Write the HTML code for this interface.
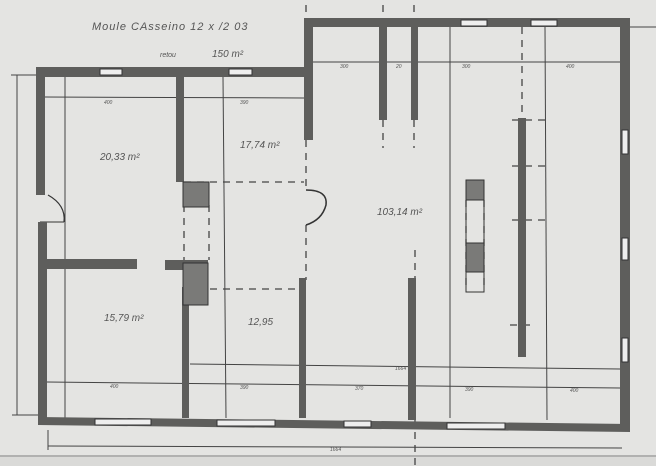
<!DOCTYPE html>
<html><head><meta charset="utf-8"><style>
html,body{margin:0;padding:0;background:#e4e4e2;}
svg{display:block;}
text{font-family:"Liberation Sans",sans-serif;fill:#555;font-style:italic;}
</style></head><body>
<svg width="656" height="466" viewBox="0 0 656 466" xmlns="http://www.w3.org/2000/svg">
<rect width="656" height="466" fill="#e4e4e2"/>
<rect x="0" y="455" width="656" height="11" fill="#dadad8"/>
<line x1="0" y1="456" x2="656" y2="456" stroke="#888" stroke-width="1"/>
<!-- thin lines -->
<g stroke="#444" stroke-width="1" fill="none">
<line x1="17" y1="75" x2="17" y2="415"/>
<line x1="11" y1="75" x2="40" y2="75"/>
<line x1="12" y1="415" x2="40" y2="415"/>
<line x1="48" y1="446" x2="622" y2="448"/>
<line x1="48" y1="430" x2="48" y2="450"/>
<line x1="44" y1="97" x2="304" y2="98"/>
<line x1="312" y1="62" x2="620" y2="62"/>
<line x1="630" y1="27" x2="656" y2="27"/>
<line x1="65" y1="77" x2="65" y2="418"/>
<line x1="223" y1="77" x2="226" y2="418"/>
<line x1="450" y1="27" x2="450" y2="418"/>
<line x1="545" y1="27" x2="547" y2="420"/>
<line x1="47" y1="382" x2="620" y2="388"/>
<line x1="190" y1="364" x2="620" y2="369"/>
<line x1="312" y1="62" x2="312" y2="62"/>
</g>
<g stroke="#444" stroke-width="1.3" fill="none" stroke-dasharray="7 6">
<line x1="184" y1="182" x2="304" y2="182"/>
<line x1="210" y1="289" x2="300" y2="289"/>
<line x1="522" y1="27" x2="522" y2="118"/>
<line x1="415" y1="380" x2="415" y2="466"/>
<line x1="415" y1="250" x2="415" y2="278"/>
<line x1="306" y1="140" x2="306" y2="190"/>
<line x1="306" y1="225" x2="306" y2="280"/>
<line x1="383" y1="120" x2="383" y2="148"/>
<line x1="414" y1="120" x2="414" y2="148"/>
<line x1="306" y1="5" x2="306" y2="18"/>
<line x1="383" y1="5" x2="383" y2="18"/>
<line x1="414" y1="5" x2="414" y2="18"/>
<line x1="184" y1="205" x2="184" y2="260"/>
<line x1="209" y1="205" x2="209" y2="260"/>
<line x1="466" y1="200" x2="466" y2="290"/>
<line x1="484" y1="200" x2="484" y2="290"/>
<line x1="510" y1="325" x2="530" y2="325"/>
<line x1="512" y1="120" x2="548" y2="120"/>
<line x1="512" y1="166" x2="548" y2="166"/>
<line x1="512" y1="220" x2="548" y2="220"/>
</g>
<!-- door arcs -->
<path d="M306 190 Q328 190 326 205 Q322 220 306 225" stroke="#333" stroke-width="1.5" fill="none"/>
<path d="M48 195 Q66 205 64 222" stroke="#333" stroke-width="1.2" fill="none"/>
<line x1="40" y1="222" x2="64" y2="222" stroke="#333" stroke-width="1"/>
<!-- walls -->
<g fill="#5e5e5c">
<rect x="36" y="67" width="269" height="10"/>
<rect x="36" y="67" width="9" height="128"/>
<rect x="38" y="222" width="9" height="198"/>
<rect x="304" y="18" width="9" height="122"/>
<rect x="304" y="18" width="326" height="9"/>
<rect x="620" y="18" width="10" height="412"/>
<polygon points="38,417 630,424 630,432 38,425"/>
<rect x="176" y="77" width="8" height="105"/>
<rect x="182" y="287" width="7" height="131"/>
<rect x="299" y="278" width="7" height="140"/>
<rect x="408" y="278" width="8" height="142"/>
<rect x="518" y="118" width="8" height="239"/>
<rect x="379" y="27" width="8" height="93"/>
<rect x="411" y="27" width="7" height="93"/>
<rect x="47" y="259" width="90" height="10"/>
<rect x="165" y="260" width="43" height="10"/>
</g>
<g fill="#7a7a78" stroke="#333" stroke-width="1">
<rect x="183" y="182" width="26" height="25"/>
<rect x="183" y="263" width="25" height="42"/>
<rect x="466" y="180" width="18" height="20"/>
<rect x="466" y="243" width="18" height="29"/>
</g>
<rect x="466" y="180" width="18" height="112" fill="none" stroke="#333" stroke-width="1"/>
<!-- windows -->
<g fill="#eee" stroke="#333" stroke-width="1">
<rect x="100" y="69" width="22" height="6"/>
<rect x="229" y="69" width="23" height="6"/>
<rect x="461" y="20" width="26" height="6"/>
<rect x="531" y="20" width="26" height="6"/>
<rect x="622" y="130" width="6" height="24"/>
<rect x="622" y="238" width="6" height="22"/>
<rect x="622" y="338" width="6" height="24"/>
<rect x="95" y="419" width="56" height="6"/>
<rect x="217" y="420" width="58" height="6"/>
<rect x="344" y="421" width="27" height="6"/>
<rect x="447" y="423" width="58" height="6"/>
</g>
<!-- labels -->
<text x="92" y="30" font-size="11" letter-spacing="1">Moule CAsseino 12 x /2 03</text>
<text x="160" y="57" font-size="7">retou</text>
<text x="212" y="57" font-size="10">150 m²</text>
<text x="100" y="160" font-size="10">20,33 m²</text>
<text x="240" y="148" font-size="10">17,74 m²</text>
<text x="377" y="215" font-size="10">103,14 m²</text>
<text x="104" y="321" font-size="10">15,79 m²</text>
<text x="248" y="325" font-size="10">12,95</text>
<g font-size="5" fill="#444">
<text x="104" y="104">400</text><text x="240" y="104">390</text>
<text x="340" y="68">300</text><text x="396" y="68">20</text><text x="462" y="68">300</text><text x="566" y="68">400</text>
<text x="110" y="388">400</text><text x="240" y="389">390</text><text x="355" y="390">370</text><text x="465" y="391">390</text><text x="570" y="392">400</text>
<text x="395" y="370">1664</text><text x="330" y="451">1664</text>
</g>
</svg>
</body></html>
